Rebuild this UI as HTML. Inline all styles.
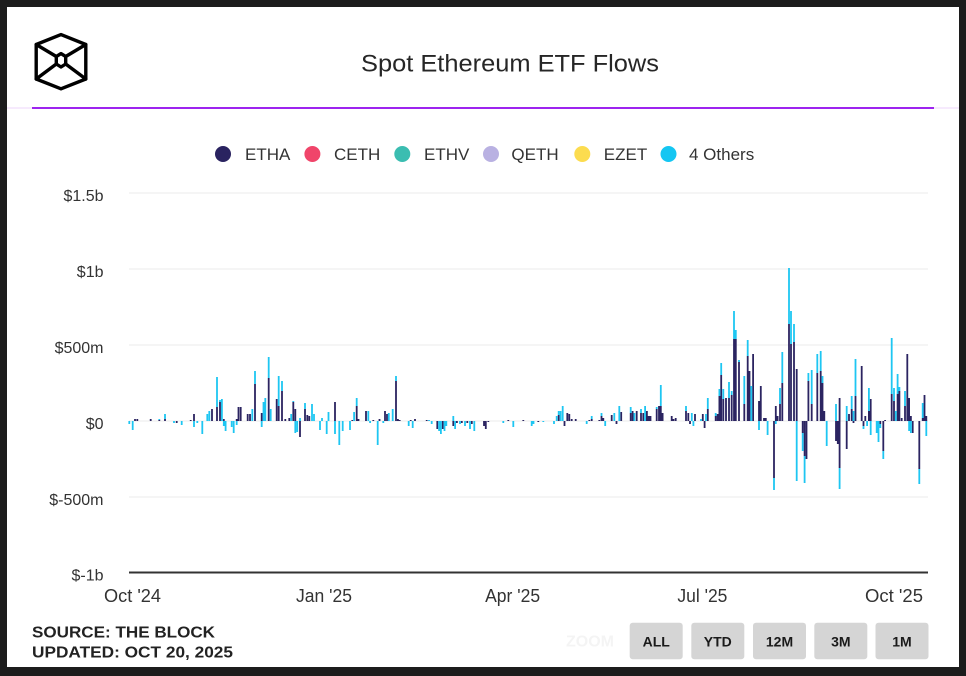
<!DOCTYPE html>
<html><head><meta charset="utf-8"><style>
html,body{margin:0;padding:0;background:#1c1c1c;}
svg{display:block;}
text{font-family:"Liberation Sans",Arial,sans-serif;}
</style></head><body>
<svg width="966" height="676" viewBox="0 0 966 676" xmlns="http://www.w3.org/2000/svg">
<rect x="0" y="0" width="966" height="676" fill="#1c1c1c"/>
<rect x="7" y="7" width="952" height="660" fill="#ffffff"/>
<!-- logo -->
<g fill="none" stroke="#000" stroke-width="3.4" stroke-linejoin="round" stroke-linecap="round">
<polygon points="61,34.6 85.8,44.5 85.8,79 61,88.8 36.2,79 36.2,44.5"/>
<polygon points="61,53.6 65.7,56.5 65.7,64 61,67 56.3,64 56.3,56.5"/>
<line x1="36.2" y1="44.5" x2="56.3" y2="56.5"/>
<line x1="85.8" y1="44.5" x2="65.7" y2="56.5"/>
<line x1="36.2" y1="79" x2="56.3" y2="64"/>
<line x1="85.8" y1="79" x2="65.7" y2="64"/>
</g>
<text x="361" y="71.5" font-size="24" fill="#262626" textLength="298" lengthAdjust="spacingAndGlyphs">Spot Ethereum ETF Flows</text>
<rect x="7" y="107.5" width="952" height="1" fill="#ecd6fb"/>
<rect x="32" y="107" width="902" height="2" fill="#9d24ef"/>
<!-- legend -->
<g font-size="17" fill="#333">
<circle cx="223" cy="154" r="8" fill="#2a2360"/><text x="245" y="160">ETHA</text>
<circle cx="312.4" cy="154" r="8" fill="#f0456a"/><text x="334" y="160">CETH</text>
<circle cx="402.3" cy="154" r="8" fill="#3bbdb1"/><text x="424" y="160">ETHV</text>
<circle cx="491" cy="154" r="8" fill="#b9b1e2"/><text x="511.4" y="160">QETH</text>
<circle cx="582.3" cy="154" r="8" fill="#fcdc4f"/><text x="603.8" y="160">EZET</text>
<circle cx="668.5" cy="154" r="8" fill="#14c6f2"/><text x="689" y="160">4 Others</text>
</g>
<!-- grid -->
<g fill="#ebebeb">
<rect x="129" y="192.5" width="799" height="1"/>
<rect x="129" y="268.5" width="799" height="1"/>
<rect x="129" y="344.5" width="799" height="1"/>
<rect x="129" y="420.5" width="799" height="1"/>
<rect x="129" y="496.5" width="799" height="1"/>
</g>
<g font-size="16" fill="#333" text-anchor="end">
<text x="103.5" y="201">$1.5b</text>
<text x="103.5" y="277">$1b</text>
<text x="103.5" y="353">$500m</text>
<text x="103.5" y="429">$0</text>
<text x="103.5" y="505">$-500m</text>
<text x="103.5" y="580.5">$-1b</text>
</g>
<!-- bars -->
<path fill="#2b2461" d="M134.1 419h1.8v2h-1.8zM136.4 419h1.8v2h-1.8zM149.8 419h1.8v2h-1.8zM158.4 420h1.8v1h-1.8zM164.1 419h1.8v2h-1.8zM175.8 421h1.8v2h-1.8zM189.8 420h1.8v1h-1.8zM193.1 414h1.8v7h-1.8zM211.1 409h1.8v12h-1.8zM216.1 407h1.8v14h-1.8zM219.1 402h1.8v19h-1.8zM222.9 419h1.8v2h-1.8zM235.8 419h1.8v2h-1.8zM237.6 407h1.8v14h-1.8zM239.8 407h1.8v14h-1.8zM246.8 414h1.8v7h-1.8zM249.1 414h1.8v7h-1.8zM254.1 384h1.8v37h-1.8zM260.8 413h1.8v8h-1.8zM267.8 378h1.8v43h-1.8zM275.8 399h1.8v22h-1.8zM277.8 406h1.8v15h-1.8zM281.1 391h1.8v30h-1.8zM284.4 419h1.8v2h-1.8zM288.4 418h1.8v3h-1.8zM292.4 402h1.8v19h-1.8zM294.4 409h1.8v12h-1.8zM299.1 421h1.8v16h-1.8zM304.1 409h1.8v12h-1.8zM306.4 415h1.8v6h-1.8zM308.4 416h1.8v5h-1.8zM334.1 402h1.8v19h-1.8zM351.4 420h1.8v1h-1.8zM355.8 406h1.8v15h-1.8zM357.6 419h1.8v2h-1.8zM365.1 411h1.8v10h-1.8zM372.4 420h1.8v1h-1.8zM378.6 419h1.8v2h-1.8zM384.1 411h1.8v10h-1.8zM386.1 414h1.8v7h-1.8zM395.1 381h1.8v40h-1.8zM397 419h1.8v2h-1.8zM398.8 420h1.8v1h-1.8zM409.8 420h1.8v1h-1.8zM414.1 419h1.8v2h-1.8zM425.8 420h1.8v1h-1.8zM436.4 421h1.8v8h-1.8zM441.8 421h1.8v8h-1.8zM452.4 421h1.8v5h-1.8zM456 421h1.8v2h-1.8zM460.9 421h1.8v2h-1.8zM466.4 421h1.8v2h-1.8zM470.9 421h1.8v3h-1.8zM483.1 421h1.8v5h-1.8zM484.9 421h1.8v8h-1.8zM487.4 421h1.8v1h-1.8zM507.4 420h1.8v1h-1.8zM522.4 420h1.8v1h-1.8zM537.4 421h1.8v1h-1.8zM557.8 415h1.8v6h-1.8zM563.6 421h1.8v5h-1.8zM566.4 413h1.8v8h-1.8zM568.4 414h1.8v7h-1.8zM570.8 419h1.8v2h-1.8zM574.8 419h1.8v2h-1.8zM588.4 420h1.8v1h-1.8zM590.8 419h1.8v2h-1.8zM598.4 420h1.8v1h-1.8zM600.6 416h1.8v5h-1.8zM602.4 418h1.8v3h-1.8zM610.8 415h1.8v6h-1.8zM615.6 421h1.8v3h-1.8zM620.3 412h1.8v9h-1.8zM629.8 413h1.8v8h-1.8zM631.7 411h1.8v10h-1.8zM635.8 411h1.8v10h-1.8zM640.1 413h1.8v8h-1.8zM642.4 413h1.8v8h-1.8zM646 411h1.8v10h-1.8zM647.8 416h1.8v5h-1.8zM649.6 416h1.8v5h-1.8zM655.8 409h1.8v12h-1.8zM658.1 406h1.8v15h-1.8zM659.9 406h1.8v15h-1.8zM661.7 413h1.8v8h-1.8zM670.8 416h1.8v5h-1.8zM672.6 419h1.8v2h-1.8zM674.8 418h1.8v3h-1.8zM685.1 411h1.8v10h-1.8zM687.4 413h1.8v8h-1.8zM689.1 421h1.8v3h-1.8zM694.1 414h1.8v7h-1.8zM701.9 414h1.8v7h-1.8zM703.7 421h1.8v7h-1.8zM706.9 409h1.8v12h-1.8zM714.8 416h1.8v5h-1.8zM716.7 414h1.8v7h-1.8zM718.5 396h1.8v25h-1.8zM720.3 375h1.8v46h-1.8zM722.4 399h1.8v22h-1.8zM725.1 398h1.8v23h-1.8zM728.1 398h1.8v23h-1.8zM730.8 395h1.8v26h-1.8zM733.1 339h1.8v82h-1.8zM734.9 339h1.8v82h-1.8zM738.1 362h1.8v59h-1.8zM743.4 404h1.8v17h-1.8zM746.8 356h1.8v65h-1.8zM748.6 371h1.8v50h-1.8zM752.2 354h1.8v67h-1.8zM758.1 401h1.8v20h-1.8zM759.9 386h1.8v35h-1.8zM763.1 418h1.8v3h-1.8zM764.9 418h1.8v3h-1.8zM773.1 421h1.8v57h-1.8zM774.9 406h1.8v15h-1.8zM776.7 416h1.8v5h-1.8zM779.1 404h1.8v17h-1.8zM781.4 383h1.8v38h-1.8zM788.1 324h1.8v97h-1.8zM790.1 344h1.8v77h-1.8zM793.1 342h1.8v79h-1.8zM795.8 369h1.8v52h-1.8zM801.8 421h1.8v12h-1.8zM803.7 421h1.8v35h-1.8zM805.6 421h1.8v38h-1.8zM807.5 381h1.8v40h-1.8zM810.8 404h1.8v17h-1.8zM816.4 373h1.8v48h-1.8zM819.8 371h1.8v50h-1.8zM821.6 383h1.8v38h-1.8zM823.4 411h1.8v10h-1.8zM835.1 421h1.8v20h-1.8zM836.9 421h1.8v23h-1.8zM838.7 421h1.8v47h-1.8zM838.7 398h1.8v23h-1.8zM845.8 421h1.8v28h-1.8zM848.1 414h1.8v7h-1.8zM850.8 409h1.8v12h-1.8zM852.6 421h1.8v2h-1.8zM854.6 396h1.8v25h-1.8zM860.8 366h1.8v55h-1.8zM862.6 421h1.8v5h-1.8zM864.4 416h1.8v5h-1.8zM868 411h1.8v10h-1.8zM869.8 399h1.8v22h-1.8zM879.4 421h1.8v3h-1.8zM882.4 421h1.8v30h-1.8zM884.2 420h1.8v1h-1.8zM890.8 394h1.8v27h-1.8zM893.1 401h1.8v20h-1.8zM896.7 394h1.8v27h-1.8zM898.5 391h1.8v30h-1.8zM900.8 418h1.8v3h-1.8zM904.1 406h1.8v15h-1.8zM906.4 354h1.8v67h-1.8zM908.2 398h1.8v23h-1.8zM910 416h1.8v5h-1.8zM911.8 421h1.8v12h-1.8zM918.4 421h1.8v48h-1.8zM921.8 418h1.8v3h-1.8zM923.6 395h1.8v26h-1.8zM925.4 416h1.8v5h-1.8z"/>
<path fill="#1ec6f2" d="M128.4 421h1.8v3h-1.8zM131.8 421h1.8v9h-1.8zM158.4 419h1.8v1h-1.8zM164.1 414h1.8v5h-1.8zM173.1 421h1.8v2h-1.8zM180.8 421h1.8v4h-1.8zM193.1 421h1.8v6h-1.8zM196.4 421h1.8v2h-1.8zM201.4 421h1.8v13h-1.8zM206.4 414h1.8v7h-1.8zM208.4 411h1.8v10h-1.8zM216.1 377h1.8v30h-1.8zM219.1 400h1.8v2h-1.8zM221 399h1.8v22h-1.8zM222.9 421h1.8v5h-1.8zM224.7 421h1.8v10h-1.8zM230.8 421h1.8v6h-1.8zM232.8 421h1.8v12h-1.8zM235.8 421h1.8v4h-1.8zM251.4 409h1.8v12h-1.8zM254.1 371h1.8v13h-1.8zM260.8 421h1.8v6h-1.8zM262.6 402h1.8v19h-1.8zM264.4 398h1.8v23h-1.8zM267.8 357h1.8v21h-1.8zM269.8 409h1.8v12h-1.8zM277.8 376h1.8v30h-1.8zM281.1 381h1.8v10h-1.8zM290.3 414h1.8v7h-1.8zM292.4 401h1.8v1h-1.8zM294.4 421h1.8v12h-1.8zM296.3 421h1.8v11h-1.8zM299.1 418h1.8v3h-1.8zM304.1 403h1.8v6h-1.8zM311.1 404h1.8v17h-1.8zM313.1 414h1.8v7h-1.8zM319.1 421h1.8v9h-1.8zM321.1 418h1.8v3h-1.8zM325.8 421h1.8v13h-1.8zM327.6 412h1.8v9h-1.8zM334.1 421h1.8v13h-1.8zM338.4 421h1.8v24h-1.8zM341.8 421h1.8v10h-1.8zM349.1 421h1.8v9h-1.8zM353.2 412h1.8v9h-1.8zM355.8 398h1.8v8h-1.8zM367.4 411h1.8v10h-1.8zM369.2 421h1.8v2h-1.8zM376.8 421h1.8v24h-1.8zM382.4 421h1.8v2h-1.8zM387.9 413h1.8v8h-1.8zM391.8 409h1.8v12h-1.8zM395.1 376h1.8v5h-1.8zM407.8 421h1.8v5h-1.8zM411.8 421h1.8v7h-1.8zM428.1 420h1.8v1h-1.8zM430.8 421h1.8v3h-1.8zM438.2 421h1.8v10h-1.8zM440 421h1.8v13h-1.8zM443.6 421h1.8v10h-1.8zM445.4 421h1.8v5h-1.8zM452.4 416h1.8v5h-1.8zM454.2 421h1.8v8h-1.8zM459.1 421h1.8v3h-1.8zM464.1 421h1.8v5h-1.8zM469.1 421h1.8v8h-1.8zM473.4 421h1.8v10h-1.8zM502.4 421h1.8v2h-1.8zM512.4 421h1.8v6h-1.8zM530.8 421h1.8v5h-1.8zM532.6 421h1.8v3h-1.8zM542.4 421h1.8v1h-1.8zM553.1 421h1.8v3h-1.8zM555.8 416h1.8v5h-1.8zM557.8 411h1.8v4h-1.8zM559.7 411h1.8v10h-1.8zM561.8 406h1.8v15h-1.8zM585.8 421h1.8v3h-1.8zM590.8 416h1.8v3h-1.8zM600.6 413h1.8v3h-1.8zM604.3 421h1.8v5h-1.8zM613.4 413h1.8v8h-1.8zM618.4 406h1.8v15h-1.8zM629.8 407h1.8v6h-1.8zM633.5 413h1.8v8h-1.8zM640.1 409h1.8v4h-1.8zM644.2 406h1.8v15h-1.8zM655.8 407h1.8v2h-1.8zM659.9 385h1.8v21h-1.8zM685.1 406h1.8v5h-1.8zM690.9 413h1.8v8h-1.8zM692.5 421h1.8v5h-1.8zM700.1 419h1.8v2h-1.8zM705.1 414h1.8v7h-1.8zM706.9 398h1.8v11h-1.8zM714.8 413h1.8v3h-1.8zM718.5 389h1.8v7h-1.8zM720.3 363h1.8v12h-1.8zM722.4 389h1.8v10h-1.8zM728.1 382h1.8v16h-1.8zM730.8 391h1.8v4h-1.8zM733.1 311h1.8v28h-1.8zM734.9 330h1.8v9h-1.8zM738.1 360h1.8v2h-1.8zM743.4 376h1.8v28h-1.8zM746.8 340h1.8v16h-1.8zM750.4 386h1.8v35h-1.8zM758.1 421h1.8v9h-1.8zM766.7 421h1.8v14h-1.8zM773.1 478h1.8v12h-1.8zM774.9 421h1.8v3h-1.8zM779.1 388h1.8v16h-1.8zM781.4 352h1.8v31h-1.8zM788.1 268h1.8v56h-1.8zM790.1 311h1.8v33h-1.8zM793.1 324h1.8v18h-1.8zM795.8 421h1.8v60h-1.8zM801.8 433h1.8v18h-1.8zM803.7 456h1.8v27h-1.8zM807.5 373h1.8v8h-1.8zM810.8 370h1.8v34h-1.8zM816.4 354h1.8v19h-1.8zM819.8 351h1.8v20h-1.8zM821.6 376h1.8v7h-1.8zM825.8 421h1.8v25h-1.8zM835.1 404h1.8v17h-1.8zM838.7 468h1.8v21h-1.8zM845.8 406h1.8v15h-1.8zM850.8 396h1.8v13h-1.8zM852.6 411h1.8v10h-1.8zM854.6 359h1.8v37h-1.8zM862.6 426h1.8v3h-1.8zM866.2 421h1.8v5h-1.8zM868 388h1.8v23h-1.8zM869.8 421h1.8v14h-1.8zM875.8 421h1.8v12h-1.8zM877.6 421h1.8v21h-1.8zM879.4 424h1.8v4h-1.8zM882.4 451h1.8v8h-1.8zM890.8 338h1.8v56h-1.8zM893.1 388h1.8v13h-1.8zM894.9 411h1.8v10h-1.8zM896.7 374h1.8v20h-1.8zM898.5 387h1.8v4h-1.8zM904.1 391h1.8v15h-1.8zM908.2 421h1.8v10h-1.8zM910 421h1.8v12h-1.8zM918.4 469h1.8v15h-1.8zM921.8 403h1.8v15h-1.8zM925.4 421h1.8v15h-1.8z"/>
<rect x="129" y="571.5" width="799" height="2" fill="#333"/>
<!-- x labels -->
<g font-size="18" fill="#333" text-anchor="middle">
<text x="132.5" y="602" textLength="57" lengthAdjust="spacingAndGlyphs">Oct '24</text>
<text x="324" y="602" textLength="56" lengthAdjust="spacingAndGlyphs">Jan '25</text>
<text x="512.6" y="602" textLength="55" lengthAdjust="spacingAndGlyphs">Apr '25</text>
<text x="702.4" y="602" textLength="50" lengthAdjust="spacingAndGlyphs">Jul '25</text>
<text x="894" y="602" textLength="58" lengthAdjust="spacingAndGlyphs">Oct '25</text>
</g>
<!-- footer -->
<g font-size="16" font-weight="bold" fill="#222">
<text x="32" y="637.5" textLength="183" lengthAdjust="spacingAndGlyphs">SOURCE: THE BLOCK</text>
<text x="32" y="657.5" textLength="201" lengthAdjust="spacingAndGlyphs">UPDATED: OCT 20, 2025</text>
</g>
<text x="590" y="646.5" font-size="16" font-weight="bold" fill="#f4f4f4" text-anchor="middle">ZOOM</text>
<g fill="#d5d5d5">
<rect x="629.7" y="622.7" width="53" height="36.6" rx="3"/>
<rect x="691.3" y="622.7" width="53" height="36.6" rx="3"/>
<rect x="753" y="622.7" width="53" height="36.6" rx="3"/>
<rect x="814.3" y="622.7" width="53" height="36.6" rx="3"/>
<rect x="875.5" y="622.7" width="53" height="36.6" rx="3"/>
</g>
<g font-size="14" font-weight="bold" fill="#1a1a1a" text-anchor="middle">
<text x="656.2" y="646.5">ALL</text>
<text x="717.8" y="646.5">YTD</text>
<text x="779.5" y="646.5">12M</text>
<text x="840.8" y="646.5">3M</text>
<text x="902" y="646.5">1M</text>
</g>
</svg>
</body></html>
